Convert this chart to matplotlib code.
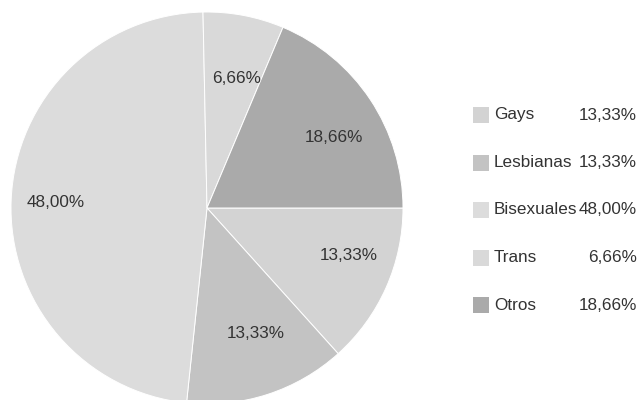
import matplotlib
matplotlib.use("Agg")
import matplotlib.pyplot as plt
from matplotlib.patches import Rectangle
import numpy as np

plt.rcParams['font.family'] = ['Liberation Sans', 'DejaVu Sans']

categories = ["Gays", "Lesbianas", "Bisexuales", "Trans", "Otros"]
values = [13.33, 13.33, 48.00, 6.66, 18.66]
value_labels = ["13,33%", "13,33%", "48,00%", "6,66%", "18,66%"]
colors = ["#d3d3d3", "#c3c3c3", "#dcdcdc", "#d9d9d9", "#aaaaaa"]

# label placement tweaks (radius fraction, angle shift in degrees)
label_r = [0.76, 0.685, 0.77, 0.675, 0.742]
label_shift = [5.6, 3.4, 0.5, -1.9, -4.4]

text_color = "#333333"
fs = 12.3

fig = plt.figure(figsize=(6.4, 4.0), dpi=100)
ax = fig.add_axes([11 / 640, -4 / 400, 392 / 640, 392 / 400])

wedges, _ = ax.pie(values, colors=colors, startangle=0, counterclock=False,
                   wedgeprops=dict(edgecolor="white", linewidth=0.7))
ax.set_xlim(-1, 1)
ax.set_ylim(-1, 1)
ax.set_aspect("equal")
ax.axis("off")

for w, lab, r, sh in zip(wedges, value_labels, label_r, label_shift):
    ang = np.radians((w.theta1 + w.theta2) / 2 + sh)
    ax.text(r * np.cos(ang), r * np.sin(ang), lab, ha="center", va="center",
            fontsize=fs, color=text_color)

# legend
lax = fig.add_axes([0, 0, 1, 1])
lax.set_xlim(0, 640)
lax.set_ylim(400, 0)
lax.axis("off")
for i, (cat, lab, c) in enumerate(zip(categories, value_labels, colors)):
    y = 115 + i * 47.5
    lax.add_patch(Rectangle((473, y - 8), 16, 16, facecolor=c, edgecolor="none"))
    lax.text(494, y, cat, ha="left", va="center", fontsize=fs, color=text_color)
    lax.text(637, y, lab, ha="right", va="center", fontsize=fs, color=text_color)

fig.savefig("out.png", dpi=100)
